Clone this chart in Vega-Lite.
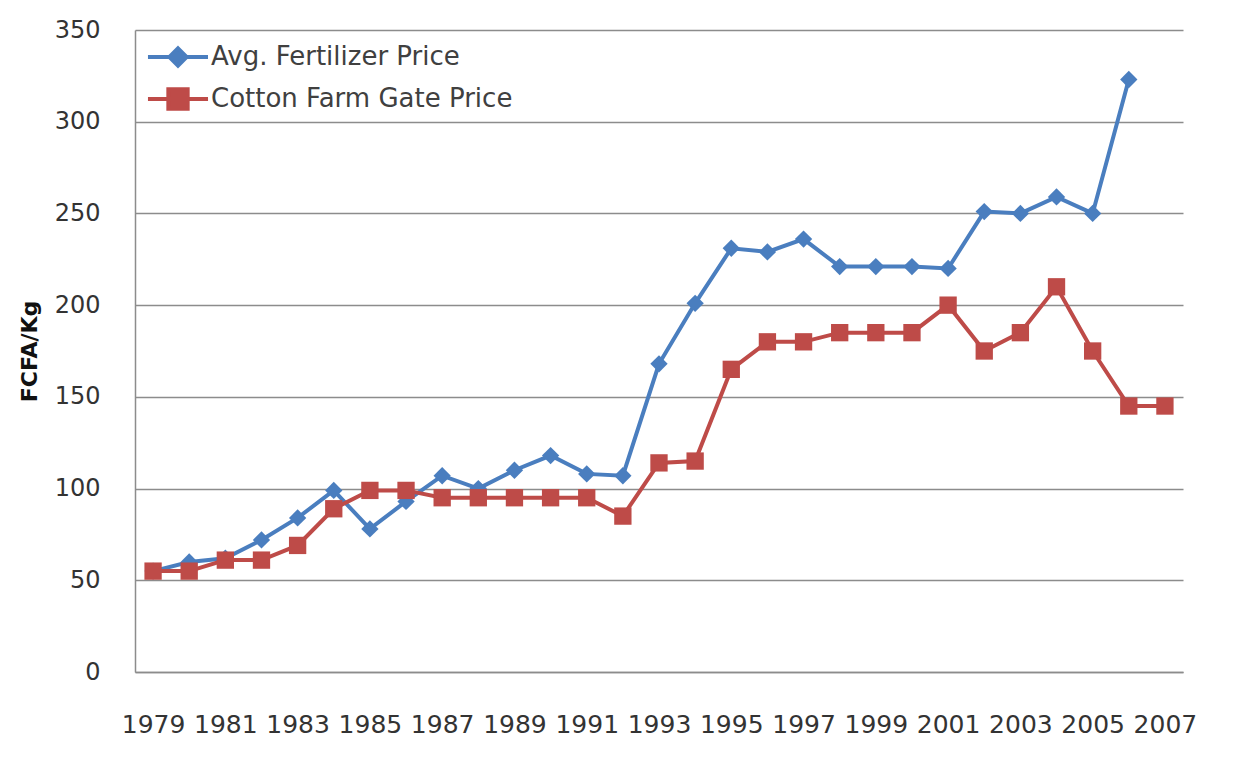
{
  "$schema": "https://vega.github.io/schema/vega-lite/v6.json",
  "autosize": {"type": "none"},
  "width": 1048,
  "height": 642,
  "padding": {"left": 135, "top": 30, "right": 56, "bottom": 87},
  "background": "white",
  "config": {
    "view": {"stroke": null},
    "font": "DejaVu Sans"
  },
  "data": {
    "values": [
      {"year": 1979, "series": "Avg. Fertilizer Price", "price": 55},
      {"year": 1980, "series": "Avg. Fertilizer Price", "price": 60},
      {"year": 1981, "series": "Avg. Fertilizer Price", "price": 62},
      {"year": 1982, "series": "Avg. Fertilizer Price", "price": 72},
      {"year": 1983, "series": "Avg. Fertilizer Price", "price": 84},
      {"year": 1984, "series": "Avg. Fertilizer Price", "price": 99},
      {"year": 1985, "series": "Avg. Fertilizer Price", "price": 78},
      {"year": 1986, "series": "Avg. Fertilizer Price", "price": 93},
      {"year": 1987, "series": "Avg. Fertilizer Price", "price": 107},
      {"year": 1988, "series": "Avg. Fertilizer Price", "price": 100},
      {"year": 1989, "series": "Avg. Fertilizer Price", "price": 110},
      {"year": 1990, "series": "Avg. Fertilizer Price", "price": 118},
      {"year": 1991, "series": "Avg. Fertilizer Price", "price": 108},
      {"year": 1992, "series": "Avg. Fertilizer Price", "price": 107},
      {"year": 1993, "series": "Avg. Fertilizer Price", "price": 168},
      {"year": 1994, "series": "Avg. Fertilizer Price", "price": 201},
      {"year": 1995, "series": "Avg. Fertilizer Price", "price": 231},
      {"year": 1996, "series": "Avg. Fertilizer Price", "price": 229},
      {"year": 1997, "series": "Avg. Fertilizer Price", "price": 236},
      {"year": 1998, "series": "Avg. Fertilizer Price", "price": 221},
      {"year": 1999, "series": "Avg. Fertilizer Price", "price": 221},
      {"year": 2000, "series": "Avg. Fertilizer Price", "price": 221},
      {"year": 2001, "series": "Avg. Fertilizer Price", "price": 220},
      {"year": 2002, "series": "Avg. Fertilizer Price", "price": 251},
      {"year": 2003, "series": "Avg. Fertilizer Price", "price": 250},
      {"year": 2004, "series": "Avg. Fertilizer Price", "price": 259},
      {"year": 2005, "series": "Avg. Fertilizer Price", "price": 250},
      {"year": 2006, "series": "Avg. Fertilizer Price", "price": 323},
      {"year": 1979, "series": "Cotton Farm Gate Price", "price": 55},
      {"year": 1980, "series": "Cotton Farm Gate Price", "price": 55},
      {"year": 1981, "series": "Cotton Farm Gate Price", "price": 61},
      {"year": 1982, "series": "Cotton Farm Gate Price", "price": 61},
      {"year": 1983, "series": "Cotton Farm Gate Price", "price": 69},
      {"year": 1984, "series": "Cotton Farm Gate Price", "price": 89},
      {"year": 1985, "series": "Cotton Farm Gate Price", "price": 99},
      {"year": 1986, "series": "Cotton Farm Gate Price", "price": 99},
      {"year": 1987, "series": "Cotton Farm Gate Price", "price": 95},
      {"year": 1988, "series": "Cotton Farm Gate Price", "price": 95},
      {"year": 1989, "series": "Cotton Farm Gate Price", "price": 95},
      {"year": 1990, "series": "Cotton Farm Gate Price", "price": 95},
      {"year": 1991, "series": "Cotton Farm Gate Price", "price": 95},
      {"year": 1992, "series": "Cotton Farm Gate Price", "price": 85},
      {"year": 1993, "series": "Cotton Farm Gate Price", "price": 114},
      {"year": 1994, "series": "Cotton Farm Gate Price", "price": 115},
      {"year": 1995, "series": "Cotton Farm Gate Price", "price": 165},
      {"year": 1996, "series": "Cotton Farm Gate Price", "price": 180},
      {"year": 1997, "series": "Cotton Farm Gate Price", "price": 180},
      {"year": 1998, "series": "Cotton Farm Gate Price", "price": 185},
      {"year": 1999, "series": "Cotton Farm Gate Price", "price": 185},
      {"year": 2000, "series": "Cotton Farm Gate Price", "price": 185},
      {"year": 2001, "series": "Cotton Farm Gate Price", "price": 200},
      {"year": 2002, "series": "Cotton Farm Gate Price", "price": 175},
      {"year": 2003, "series": "Cotton Farm Gate Price", "price": 185},
      {"year": 2004, "series": "Cotton Farm Gate Price", "price": 210},
      {"year": 2005, "series": "Cotton Farm Gate Price", "price": 175},
      {"year": 2006, "series": "Cotton Farm Gate Price", "price": 145},
      {"year": 2007, "series": "Cotton Farm Gate Price", "price": 145}
    ]
  },
  "encoding": {
    "x": {
      "field": "year",
      "type": "ordinal",
      "scale": {"type": "point", "padding": 0.5},
      "axis": {
        "title": null,
        "values": [1979, 1981, 1983, 1985, 1987, 1989, 1991, 1993, 1995, 1997, 1999, 2001, 2003, 2005, 2007],
        "labelAngle": 0,
        "labelFont": "DejaVu Sans",
        "labelFontSize": 25,
        "labelColor": "#333333",
        "labelPadding": 40,
        "labelBaseline": "top",
        "labelOverlap": false,
        "ticks": false,
        "domainColor": "#8c8c8c",
        "domainWidth": 1.5,
        "grid": false
      }
    },
    "y": {
      "field": "price",
      "type": "quantitative",
      "scale": {"domain": [0, 350], "nice": false, "zero": true},
      "axis": {
        "title": "FCFA/Kg",
        "titleFont": "DejaVu Sans",
        "titleFontWeight": "bold",
        "titleFontSize": 22,
        "titleColor": "#111111",
        "titlePadding": 13,
        "values": [0, 50, 100, 150, 200, 250, 300, 350],
        "labelFont": "DejaVu Sans",
        "labelFontSize": 24,
        "labelColor": "#333333",
        "labelPadding": 35,
        "ticks": false,
        "domainColor": "#8c8c8c",
        "domainWidth": 1.5,
        "grid": true,
        "gridColor": "#8c8c8c",
        "gridWidth": 1.5
      }
    },
    "color": {
      "field": "series",
      "type": "nominal",
      "scale": {
        "domain": ["Avg. Fertilizer Price", "Cotton Farm Gate Price"],
        "range": ["#4A7EBF", "#BE4B48"]
      },
      "legend": {
        "title": null,
        "orient": "none",
        "legendX": 20,
        "legendY": 4,
        "padding": 0,
        "labelFont": "DejaVu Sans",
        "labelFontSize": 26,
        "labelColor": "#404040",
        "labelOffset": 10,
        "labelLimit": 500,
        "symbolSize": 1764,
        "rowPadding": 2,
        "encode": {
          "symbols": {
            "update": {
              "shape": {"signal": "datum.value === 'Avg. Fertilizer Price' ? 'M-1.43,0H1.43M0,-0.41L0.41,0L0,0.41L-0.41,0Z' : 'M-1.43,0H1.43M-0.46,-0.46H0.46V0.46H-0.46Z'"},
              "fill": {"signal": "datum.value === 'Avg. Fertilizer Price' ? '#4A7EBF' : '#BE4B48'"},
              "stroke": {"signal": "datum.value === 'Avg. Fertilizer Price' ? '#4A7EBF' : '#BE4B48'"},
              "strokeWidth": {"value": 4},
              "size": {"value": 1764},
              "opacity": {"value": 1}
            }
          }
        }
      }
    }
  },
  "layer": [
    {
      "mark": {"type": "line", "strokeWidth": 4}
    },
    {
      "transform": [{"filter": "datum.series === 'Avg. Fertilizer Price'"}],
      "mark": {"type": "point", "shape": "diamond", "filled": true, "opacity": 1, "size": 300}
    },
    {
      "transform": [{"filter": "datum.series === 'Cotton Farm Gate Price'"}],
      "mark": {"type": "point", "shape": "square", "filled": true, "opacity": 1, "size": 300}
    }
  ]
}
